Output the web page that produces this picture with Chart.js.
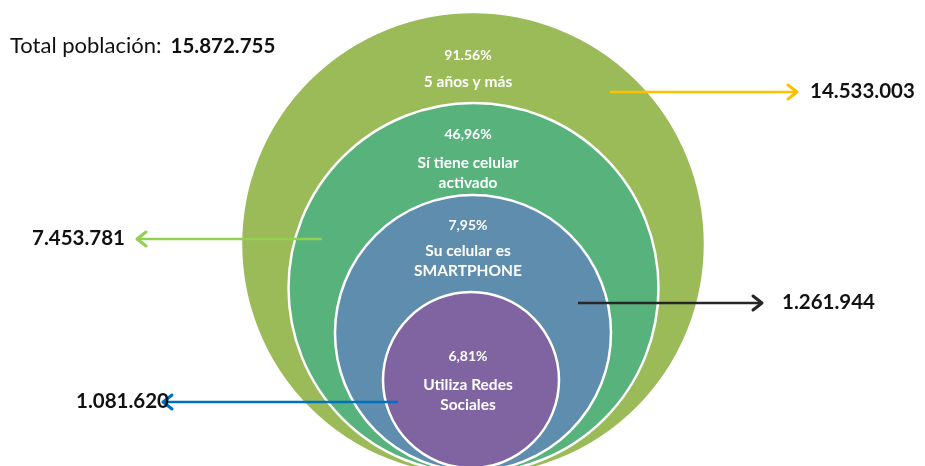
<!DOCTYPE html>
<html>
<head>
<meta charset="utf-8">
<script src="https://cdn.jsdelivr.net/npm/chart.js@4/dist/chart.umd.min.js"></script>
<style>
	html, body { margin: 0; padding: 0; background: #fff; }
	#wrap { width: 925px; height: 466px; position: relative; }
</style>
</head>
<body>
<div id="wrap"><canvas id="chart-population"></canvas></div>
<script>
// Data
const TOTAL_LABEL = "Total población:";
const TOTAL_VALUE = "15.872.755";
const PERCENTS = ["91.56%", "46,96%", "7,95%", "6,81%"];
const GROUPS = [["5 años y más"], ["Sí tiene celular", "activado"], ["Su celular es", "SMARTPHONE"], ["Utiliza Redes", "Sociales"]];
const COUNTS = ["14.533.003", "7.453.781", "1.261.944", "1.081.620"];

// Layout (pixel units of the hidden scales)
const CIRCLE_X = [473, 473.5, 473, 471];
const CIRCLE_Y = [244, 288, 333, 380];
const CIRCLE_R = [232, 185, 138, 88];
const TEXT_X = 468;
const PCT_Y = [55, 134, 225, 356];
const GROUP_Y = [82, 163, 251, 385];
const ARROW_FROM = [610, 322, 578, 398];
const ARROW_TO = [797, 137, 762, 163];
const ARROW_Y = [92, 239, 303, 402];
const LABEL_GAP = [13, 12, 20, -6];

const COLORS = {
	olive: "#9bbb59",
	green: "#58b27c",
	blue: "#5f8dad",
	purple: "#8064a2",
	yellow: "#ffc000",
	lime: "#92d050",
	dark: "#262626",
	navy: "#0070c0",
};
const CIRCLE_COLORS = [COLORS.olive, COLORS.green, COLORS.blue, COLORS.purple];
const ARROW_COLORS = [COLORS.yellow, COLORS.lime, COLORS.dark, COLORS.navy];
const FONT = "Lato, 'Open Sans', sans-serif";

const circles = {
	type: "bubble",
	label: "circles",
	data: CIRCLE_X.map((x, i) => ({ x: x, y: CIRCLE_Y[i], r: CIRCLE_R[i] })),
	backgroundColor: CIRCLE_COLORS,
	borderColor: "#ffffff",
	borderWidth: 2.5,
	hoverRadius: 0,
	order: 2,
};

const arrows = COUNTS.map((c, i) => ({
	type: "line",
	label: c,
	data: [{ x: ARROW_FROM[i], y: ARROW_Y[i] }, { x: ARROW_TO[i], y: ARROW_Y[i] }],
	borderColor: ARROW_COLORS[i],
	borderWidth: 2.5,
	pointRadius: 0,
	fill: false,
	order: 1,
	isArrow: true,
}));

// Arrow heads + all texts
const decorations = {
	id: "decorations",
	afterDatasetsDraw(chart) {
		const ctx = chart.ctx;
		const xs = chart.scales.x;
		const ys = chart.scales.y;
		ctx.save();

		chart.data.datasets.forEach((ds, di) => {
			if (!ds.isArrow) return;
			const pts = chart.getDatasetMeta(di).data;
			const a = pts[0], b = pts[pts.length - 1];
			const dir = Math.sign(b.x - a.x);
			ctx.strokeStyle = ds.borderColor;
			ctx.lineWidth = 3;
			ctx.lineCap = "round";
			ctx.lineJoin = "round";
			ctx.beginPath();
			ctx.moveTo(b.x - dir * 9, b.y - 7);
			ctx.lineTo(b.x, b.y);
			ctx.lineTo(b.x - dir * 9, b.y + 7);
			ctx.stroke();
		});

		// Circle texts
		ctx.fillStyle = "#ffffff";
		ctx.textAlign = "center";
		ctx.textBaseline = "middle";
		const cx = xs.getPixelForValue(TEXT_X);
		PERCENTS.forEach((p, i) => {
			ctx.font = "bold 14px " + FONT;
			ctx.fillText(p, cx, ys.getPixelForValue(PCT_Y[i]));
			ctx.font = "bold 15.5px " + FONT;
			GROUPS[i].forEach((line, j) => {
				ctx.fillText(line, cx, ys.getPixelForValue(GROUP_Y[i] + j * 20));
			});
		});

		// Counts at arrow tips
		ctx.fillStyle = "#111111";
		ctx.font = "bold 20.5px " + FONT;
		COUNTS.forEach((c, i) => {
			const right = ARROW_TO[i] > ARROW_FROM[i];
			ctx.textAlign = right ? "left" : "right";
			const x = xs.getPixelForValue(ARROW_TO[i]) + (right ? LABEL_GAP[i] : -LABEL_GAP[i]);
			ctx.fillText(c, x, ys.getPixelForValue(ARROW_Y[i]) - 1);
		});

		// Total
		ctx.textAlign = "left";
		ctx.font = "22px " + FONT;
		ctx.fillText(TOTAL_LABEL, 10, 46);
		const w = ctx.measureText(TOTAL_LABEL).width;
		ctx.font = "bold 20.5px " + FONT;
		ctx.fillText(TOTAL_VALUE, 10 + w + 9, 46);

		ctx.restore();
	},
};

const CHART_CONFIG = {
	type: "bubble",
	data: { datasets: [circles, ...arrows] },
	options: {
		responsive: true,
		maintainAspectRatio: false,
		animation: false,
		events: [],
		layout: { padding: 0, autoPadding: false },
		scales: {
			x: { type: "linear", min: 0, max: 925, display: false },
			y: { type: "linear", min: 0, max: 466, reverse: true, display: false },
		},
		plugins: {
			legend: { display: false },
			tooltip: { enabled: false },
		},
	},
	plugins: [decorations],
};

new Chart(document.getElementById("chart-population"), CHART_CONFIG);
</script>
</body>
</html>
